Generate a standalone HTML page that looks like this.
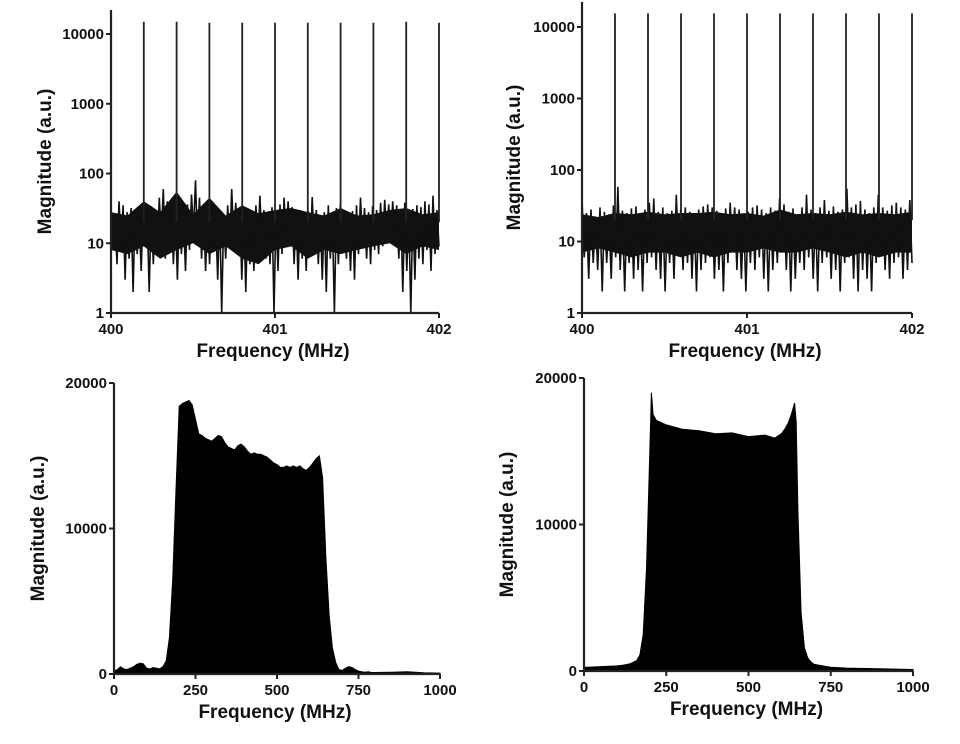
<!DOCTYPE html>
<html><head><meta charset="utf-8"><style>
body{margin:0;background:#fff;}
svg text{font-family:"Liberation Sans",Arial,sans-serif;font-weight:bold;fill:#111;}
</style></head><body>
<svg id="fig" width="960" height="739" viewBox="0 0 960 739" xmlns="http://www.w3.org/2000/svg"></svg>
<script>
// ---- data ----
const spikeFreqA = [400.2,400.4,400.6,400.8,401.0,401.2,401.4,401.6,401.8,402.0];
const spikeMagA = [15000,15000,14500,14500,14500,14500,14500,14500,15000,14500];
const noiseA = [30,8,25,5,40,10,35,3,28,6,32,2,30,7,22,4,38,9,26,2,34,5,29,8,45,12,60,6,40,9,33,5,27,3,31,7,25,4,36,8,50,15,80,10,45,6,30,4,28,5,33,8,24,3,30,1,26,6,35,9,60,12,38,7,29,3,25,2,31,5,27,4,35,8,48,10,30,6,27,5,33,1,28,4,36,7,45,9,40,12,33,5,26,3,30,6,25,4,29,7,46,10,30,5,24,3,28,2,35,6,26,1,32,5,38,8,30,6,27,4,29,3,35,7,45,11,32,6,28,5,34,8,30,7,38,9,42,12,36,10,40,14,35,6,30,2,38,4,28,1,31,3,35,6,33,5,40,8,36,4,48,7,30,9];
const bandHiA = [28,25,40,28,55,26,45,25,35,27,30,32,28,25,32,25,26,30,32,26,28];
const bandLoA = [8,7,9,6,8,10,7,9,6,5,8,9,6,8,7,8,9,10,7,9,8];
const spikeFreqB = [400.2,400.4,400.6,400.8,401.0,401.2,401.4,401.6,401.8,402.0];
const spikeMagB = [15500,15500,15500,15500,15500,15500,15500,15500,15500,15500];
const noiseB = [40,6,25,3,28,5,22,4,30,2,26,5,24,3,32,6,58,4,27,2,25,5,29,3,31,4,24,2,28,5,35,6,40,4,26,3,30,2,25,5,27,3,45,7,28,4,30,5,26,3,24,2,28,4,31,5,33,6,30,3,27,4,25,2,29,5,35,8,30,4,28,3,24,2,26,5,30,4,32,6,28,3,25,2,30,4,27,5,40,7,33,4,26,2,29,3,24,5,30,4,45,6,28,3,25,2,30,5,38,6,27,3,31,4,26,2,28,5,55,6,30,3,33,2,37,4,28,3,25,2,30,5,45,7,30,4,27,3,32,5,35,6,30,3,28,4,38,5];
const bandHiB = [24,22,25,24,26,24,25,25,26,24,25,23,28,24,25,24,26,24,25,24,26];
const bandLoB = [7,8,7,6,7,7,6,7,6,7,7,8,7,7,8,7,6,7,6,7,7];
const freqC = [0,10,20,30,40,50,60,70,80,90,100,110,120,130,140,150,160,170,180,190,200,210,220,230,240,250,260,270,280,290,300,310,320,330,340,350,360,370,380,390,400,410,420,430,440,450,460,470,480,490,500,510,520,530,540,550,560,570,580,590,600,610,620,630,640,650,660,670,680,690,700,710,720,730,740,750,760,770,780,790,800,850,900,950,1000];
const magC = [200,300,500,350,300,400,500,650,750,700,400,350,450,400,350,500,900,2500,6500,12500,18400,18600,18700,18800,18500,17500,16500,16400,16200,16100,16000,16200,16400,16300,15900,15600,15500,15400,15700,15800,15600,15300,15100,15200,15100,15100,15000,14900,14700,14500,14400,14200,14200,14300,14200,14300,14200,14300,14100,14000,14200,14500,14800,15000,13500,8000,4000,1800,800,300,250,400,500,450,300,200,150,120,150,100,100,120,150,80,60];
const freqD = [0,50,100,120,140,160,170,180,190,200,205,210,220,230,250,300,350,400,450,500,550,580,600,610,620,630,640,645,650,660,670,680,690,700,750,800,900,1000];
const magD = [250,300,350,400,500,700,1100,2500,7000,15000,19000,17500,17100,17000,16800,16500,16400,16200,16250,16000,16100,15900,16200,16500,16900,17500,18300,17000,11000,4000,1600,900,600,450,250,200,150,100];
const logTicks = [1,10,100,1000,10000];
const xTicksTop = [400,401,402];
const linTicksY = [0,10000,20000];
const xTicksBot = [0,250,500,750,1000];

const NS='http://www.w3.org/2000/svg';
const svg=document.getElementById('fig');
function mk(tag,attrs,parent){const e=document.createElementNS(NS,tag);for(const k in attrs)e.setAttribute(k,attrs[k]);(parent||svg).appendChild(e);return e;}

function panel(p){
  const g=mk('g',{});
  
  
  const X=v=>p.x0+(v-p.xmin)/(p.xmax-p.xmin)*(p.x1-p.x0);
  const Y=p.log?(v=>p.y0-(Math.log10(Math.max(v,1)))/4*(p.y0-p.yTopTick)):(v=>p.y0-v/20000*(p.y0-p.yTopTick));
  if(p.log){
    // dense core band
    let bd='';
    p.bh.forEach((v,i)=>{const f=p.xmin+(p.xmax-p.xmin)*i/(p.bh.length-1);bd+=(i?'L':'M')+X(f).toFixed(1)+','+Y(v).toFixed(1);});
    for(let i=p.bl.length-1;i>=0;i--){const f=p.xmin+(p.xmax-p.xmin)*i/(p.bl.length-1);bd+='L'+X(f).toFixed(1)+','+Y(p.bl[i]).toFixed(1);}
    const b=mk('path',{d:bd+'Z',fill:'#111'},g);
    
    
    let d='';
    p.noise.forEach((v,i)=>{const f=p.xmin+(p.xmax-p.xmin)*i/(p.noise.length-1);d+=(i?'L':'M')+X(f).toFixed(1)+','+Y(v).toFixed(1);});
    const l=mk('path',{d:d,fill:'none',stroke:'#111','stroke-width':1.6},g);
    
    
    p.sf.forEach((f,i)=>{
      const s=mk('line',{x1:X(f),x2:X(f),y1:Y(20),y2:Y(p.sm[i]),stroke:'#222','stroke-width':1.8},g);
      
      
    });
  } else {
    let d='M'+X(p.f[0])+','+p.y0;
    p.f.forEach((f,i)=>{d+='L'+X(f).toFixed(1)+','+Y(p.m[i]).toFixed(1);});
    d+='L'+X(p.f[p.f.length-1])+','+p.y0+'Z';
    const a=mk('path',{d:d,fill:'#000',stroke:'#000','stroke-width':1},g);
    
    
  }
  const ax=mk('path',{d:`M${p.x0},${p.yTop}L${p.x0},${p.y0}L${p.x1},${p.y0}`,fill:'none',stroke:'#222','stroke-width':2.2},g);
  
  
  const yt=p.log?logTicks:linTicksY;
  yt.forEach(v=>{
    mk('line',{x1:p.x0-5,x2:p.x0,y1:Y(v),y2:Y(v),stroke:'#222','stroke-width':2},g);
    const t=mk('text',{x:p.x0-7,y:Y(v)+5,'text-anchor':'end','font-size':15},g);
    t.textContent=v;
    
    
  });
  const xt=p.log?xTicksTop:xTicksBot;
  xt.forEach(v=>{
    mk('line',{x1:X(v),x2:X(v),y1:p.y0,y2:p.y0+5,stroke:'#222','stroke-width':2},g);
    const t=mk('text',{x:X(v),y:p.y0+21,'text-anchor':'middle','font-size':15},g);
    t.textContent=v;
    
    
  });
  const xtitle=mk('text',{x:(p.x0+p.x1)/2-2,y:p.y0+44,'text-anchor':'middle','font-size':19},g);
  xtitle.textContent='Frequency (MHz)';
  
  
  const yc=(p.y0+p.yTop)/2;
  const ytitle=mk('text',{x:p.ytx,y:yc,'text-anchor':'middle','font-size':19,transform:`rotate(-90 ${p.ytx} ${yc})`},g);
  ytitle.textContent='Magnitude (a.u.)';
  
  
}
panel({name:'panel-top-left',log:true,x0:111,x1:439,y0:313,yTopTick:34,yTop:10,xmin:400,xmax:402,noise:noiseA,bh:bandHiA,bl:bandLoA,sf:spikeFreqA,sm:spikeMagA,ytx:51});
panel({name:'panel-top-right',log:true,x0:582,x1:912,y0:313,yTopTick:27,yTop:2,xmin:400,xmax:402,noise:noiseB,bh:bandHiB,bl:bandLoB,sf:spikeFreqB,sm:spikeMagB,ytx:520});
panel({name:'panel-bottom-left',log:false,x0:114,x1:440,y0:674,yTopTick:383,yTop:383,xmin:0,xmax:1000,f:freqC,m:magC,ytx:44});
panel({name:'panel-bottom-right',log:false,x0:584,x1:913,y0:671,yTopTick:378,yTop:378,xmin:0,xmax:1000,f:freqD,m:magD,ytx:513});
</script>
</body></html>
